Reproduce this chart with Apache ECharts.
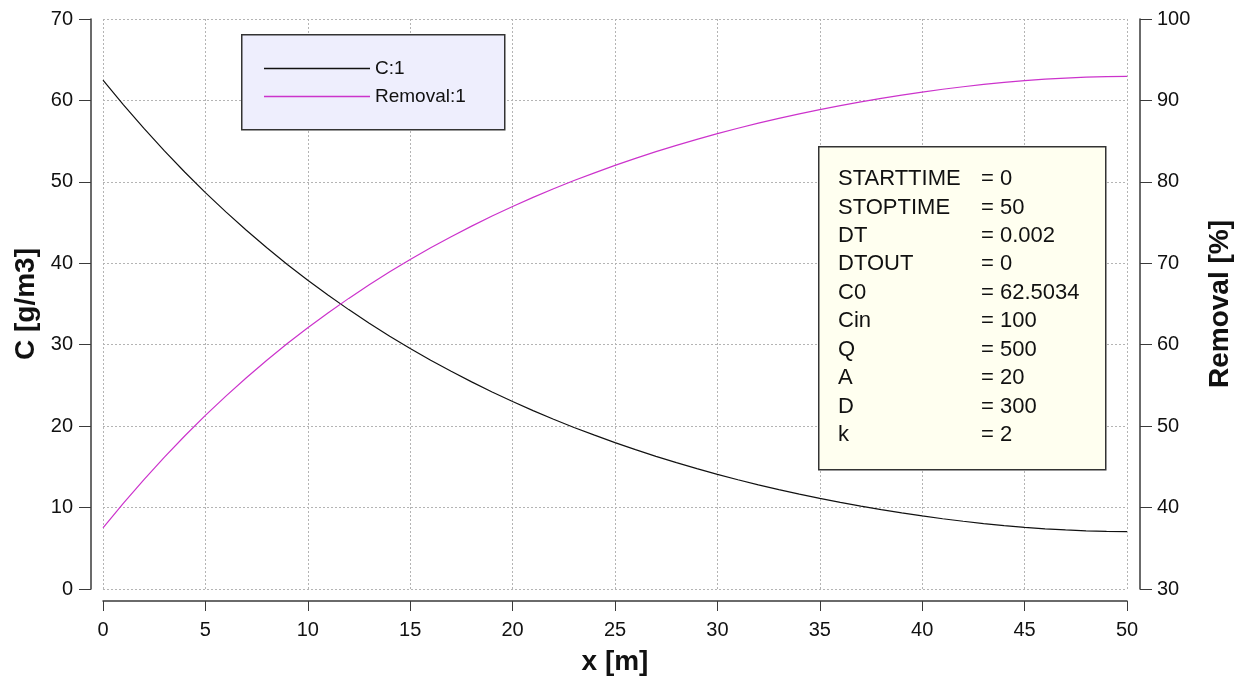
<!DOCTYPE html>
<html>
<head>
<meta charset="utf-8">
<script src="https://cdn.jsdelivr.net/npm/echarts@6/dist/echarts.min.js"></script>
<style>
  html, body { margin: 0; padding: 0; background: #fff; }
  #chart { width: 1239px; height: 676px; }
</style>
</head>
<body>
<div id="chart"></div>
<script>
// Distance along the reactor [m]
const xValues = [0,1,2,3,4,5,6,7,8,9,10,11,12,13,14,15,16,17,18,19,20,21,22,23,24,25,
  26,27,28,29,30,31,32,33,34,35,36,37,38,39,40,41,42,43,44,45,46,47,48,49,50];

// Concentration C [g/m3]
const concValues = [62.50,59.46,56.56,53.80,51.18,48.68,46.31,44.05,41.90,39.86,37.92,
  36.07,34.31,32.64,31.05,29.54,28.10,26.74,25.44,24.20,23.03,21.91,20.85,19.84,18.89,
  17.98,17.11,16.29,15.52,14.78,14.08,13.42,12.79,12.20,11.65,11.12,10.63,10.17,9.74,
  9.34,8.97,8.63,8.32,8.04,7.79,7.58,7.39,7.25,7.14,7.08,7.05];

// Removal [%]
const removalValues = [37.50,40.54,43.44,46.20,48.82,51.32,53.69,55.95,58.10,60.14,62.08,
  63.93,65.69,67.36,68.95,70.46,71.90,73.26,74.56,75.80,76.97,78.09,79.15,80.16,81.11,
  82.02,82.89,83.71,84.48,85.22,85.92,86.58,87.21,87.80,88.35,88.88,89.37,89.83,90.26,
  90.66,91.03,91.37,91.68,91.96,92.21,92.42,92.61,92.75,92.86,92.92,92.95];

const seriesNames = ['C:1', 'Removal:1'];

// Run parameters
const paramNames = ['STARTTIME', 'STOPTIME', 'DT', 'DTOUT', 'C0', 'Cin', 'Q', 'A', 'D', 'k'];
const paramValues = ['0', '50', '0.002', '0', '62.5034', '100', '500', '20', '300', '2'];

const FONT = "'Liberation Sans', Arial, sans-serif";
const AXIS_COLOR = '#3a3a3a';
const GRID_LINE = { show: true, lineStyle: { color: '#b4b4b4', type: [2, 2], width: 1 } };

const chart = echarts.init(document.getElementById('chart'), null, { renderer: 'canvas' });

// Parameter box contents
const paramGraphics = [];
paramNames.forEach((name, i) => {
  const y = 180 + i * 28.45;
  paramGraphics.push({
    type: 'text', left: 838, top: y - 12, z: 6,
    style: { text: name, font: '22px ' + FONT, fill: '#111' }
  });
  paramGraphics.push({
    type: 'text', left: 981, top: y - 12, z: 6,
    style: { text: '= ' + paramValues[i], font: '22px ' + FONT, fill: '#111' }
  });
});

const option = {
  backgroundColor: '#ffffff',
  animation: false,
  grid: {
    left: 103, right: 112, top: 19, bottom: 87,
    containLabel: false, outerBoundsMode: 'none'
  },
  legend: {
    orient: 'vertical',
    left: 259, top: 54,
    icon: 'rect',
    itemWidth: 106, itemHeight: 1.3, itemGap: 9,
    textStyle: { fontFamily: FONT, fontSize: 19, color: '#111' },
    data: seriesNames,
    z: 5
  },
  xAxis: {
    type: 'value', min: 0, max: 50, interval: 5,
    offset: 12,
    name: 'x [m]', nameLocation: 'middle', nameGap: 47,
    nameTextStyle: { fontFamily: FONT, fontSize: 28, fontWeight: 'bold', color: '#111' },
    axisLine: { show: true, onZero: false, lineStyle: { color: AXIS_COLOR, width: 1.5 } },
    axisTick: { show: true, length: 10, lineStyle: { color: AXIS_COLOR } },
    axisLabel: { margin: 19, fontFamily: FONT, fontSize: 20, color: '#111' },
    splitLine: GRID_LINE
  },
  yAxis: [
    {
      type: 'value', min: 0, max: 70, interval: 10,
      position: 'left', offset: 12,
      name: 'C [g/m3]', nameLocation: 'middle', nameGap: 46, nameRotate: 90,
      nameTextStyle: { fontFamily: FONT, fontSize: 28, fontWeight: 'bold', color: '#111' },
      axisLine: { show: true, onZero: false, lineStyle: { color: AXIS_COLOR, width: 1.5 } },
      axisTick: { show: true, length: 12, lineStyle: { color: AXIS_COLOR } },
      axisLabel: { margin: 18, fontFamily: FONT, fontSize: 20, color: '#111' },
      splitLine: GRID_LINE
    },
    {
      type: 'value', min: 30, max: 100, interval: 10,
      position: 'right', offset: 13,
      name: 'Removal [%]', nameLocation: 'middle', nameGap: 66, nameRotate: 90,
      nameTextStyle: { fontFamily: FONT, fontSize: 28, fontWeight: 'bold', color: '#111' },
      axisLine: { show: true, onZero: false, lineStyle: { color: AXIS_COLOR, width: 1.5 } },
      axisTick: { show: true, length: 12, lineStyle: { color: AXIS_COLOR } },
      axisLabel: { margin: 17, fontFamily: FONT, fontSize: 20, color: '#111' },
      splitLine: { show: false }
    }
  ],
  graphic: [
    // legend frame
    {
      type: 'rect', left: 241, top: 34, z: 4,
      shape: { width: 263, height: 95 },
      style: { fill: '#eeeefd', stroke: '#333', lineWidth: 1.5 }
    },
    // parameter frame
    {
      type: 'rect', left: 818, top: 146, z: 4,
      shape: { width: 287, height: 323 },
      style: { fill: '#fffff0', stroke: '#333', lineWidth: 1.5 }
    }
  ].concat(paramGraphics),
  series: [
    {
      name: seriesNames[0], type: 'line', yAxisIndex: 0,
      symbol: 'none', smooth: false,
      lineStyle: { color: '#111111', width: 1.2 },
      itemStyle: { color: '#111111' },
      data: xValues.map((x, i) => [x, concValues[i]])
    },
    {
      name: seriesNames[1], type: 'line', yAxisIndex: 1,
      symbol: 'none', smooth: false,
      lineStyle: { color: '#cc33cc', width: 1.2 },
      itemStyle: { color: '#cc33cc' },
      data: xValues.map((x, i) => [x, removalValues[i]])
    }
  ]
};

chart.setOption(option);
</script>
</body>
</html>
